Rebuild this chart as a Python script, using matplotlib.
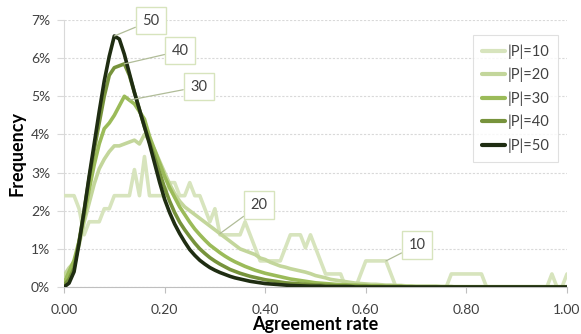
import numpy as np
import matplotlib
matplotlib.use("Agg")
import matplotlib.pyplot as plt
from matplotlib.ticker import FuncFormatter

plt.rcParams['font.family'] = ['Lato', 'DejaVu Sans']

# Agreement rate grid (0.00 .. 1.00, step 0.01)
agreement = np.round(np.arange(0, 101) * 0.01, 2)

# Frequencies in percent for each panel size |P|
unit10 = 0.342  # one count for |P|=10, in percent
counts_p10 = [7, 7, 7, 6, 4, 5, 5, 5, 6, 6,
              7, 7, 7, 7, 9, 7, 10, 7, 7, 7,
              7, 8, 8, 7, 7, 8, 7, 7, 6, 5,
              6, 4, 4, 4, 4, 4, 5, 4, 3, 2,
              2, 2, 2, 2, 3, 4, 4, 4, 3, 4,
              3, 2, 1, 1, 1, 1, 0, 0, 0, 1,
              2, 2, 2, 2, 2, 1, 0, 0, 0, 0,
              0, 0, 0, 0, 0, 0, 0, 1, 1, 1,
              1, 1, 1, 1, 0, 0, 0, 0, 0, 0,
              0, 0, 0, 0, 0, 0, 0, 1, 0, 0,
              1]
freq_p10 = [c * unit10 for c in counts_p10]

freq_p20 = [0.30, 0.50, 0.65, 1.10, 1.70, 2.20, 2.70, 3.10, 3.35, 3.55,
            3.70, 3.70, 3.75, 3.80, 3.85, 3.75, 4.00, 3.85, 3.60, 3.30,
            3.00, 2.70, 2.45, 2.25, 2.10, 2.00, 1.90, 1.80, 1.70, 1.60,
            1.50, 1.40, 1.30, 1.20, 1.10, 1.00, 0.95, 0.90, 0.85, 0.76,
            0.72, 0.65, 0.60, 0.55, 0.52, 0.48, 0.45, 0.42, 0.39, 0.35,
            0.30, 0.27, 0.24, 0.20, 0.18, 0.16, 0.14, 0.12, 0.10, 0.09,
            0.08, 0.07, 0.07, 0.06, 0.05, 0.05, 0.04, 0.04, 0.03, 0.03,
            0.02, 0.02, 0.02, 0.02, 0.02, 0.01, 0.01, 0.01, 0.01, 0.01,
            0.01, 0.01, 0.01, 0.01, 0.01, 0.01, 0.01, 0.01, 0.01, 0.01,
            0.01, 0.01, 0.01, 0.01, 0.01, 0.01, 0.01, 0.01, 0.01, 0.01,
            0.01]

freq_p30 = [0.10, 0.40, 0.70, 1.20, 1.85, 2.55, 3.20, 3.75, 4.15, 4.30,
            4.50, 4.75, 5.00, 4.90, 4.80, 4.60, 4.40, 3.95, 3.60, 3.25,
            2.90, 2.60, 2.35, 2.10, 1.90, 1.70, 1.52, 1.37, 1.23, 1.10,
            1.00, 0.90, 0.81, 0.73, 0.66, 0.60, 0.54, 0.49, 0.44, 0.40,
            0.36, 0.33, 0.30, 0.27, 0.24, 0.21, 0.19, 0.17, 0.15, 0.13,
            0.11, 0.10, 0.09, 0.08, 0.07, 0.06, 0.06, 0.05, 0.05, 0.04,
            0.04, 0.03, 0.03, 0.03, 0.02, 0.02, 0.02, 0.02, 0.01, 0.01,
            0.01, 0.01, 0.01, 0.01, 0.01, 0.01, 0.01, 0.01, 0.00, 0.00,
            0.00, 0.00, 0.00, 0.00, 0.00, 0.00, 0.00, 0.00, 0.00, 0.00,
            0.00, 0.00, 0.00, 0.00, 0.00, 0.00, 0.00, 0.00, 0.00, 0.00,
            0.00]

freq_p40 = [0.05, 0.20, 0.50, 1.20, 2.00, 2.85, 3.60, 4.30, 5.00, 5.55,
            5.75, 5.80, 5.85, 5.55, 5.10, 4.65, 4.20, 3.80, 3.40, 3.00,
            2.60, 2.25, 1.95, 1.70, 1.50, 1.32, 1.15, 1.00, 0.88, 0.77,
            0.68, 0.60, 0.53, 0.46, 0.41, 0.36, 0.32, 0.28, 0.25, 0.22,
            0.19, 0.17, 0.15, 0.13, 0.11, 0.10, 0.09, 0.08, 0.07, 0.06,
            0.05, 0.05, 0.04, 0.04, 0.03, 0.03, 0.03, 0.02, 0.02, 0.02,
            0.02, 0.01, 0.01, 0.01, 0.01, 0.01, 0.01, 0.01, 0.00, 0.00,
            0.00, 0.00, 0.00, 0.00, 0.00, 0.00, 0.00, 0.00, 0.00, 0.00,
            0.00, 0.00, 0.00, 0.00, 0.00, 0.00, 0.00, 0.00, 0.00, 0.00,
            0.00, 0.00, 0.00, 0.00, 0.00, 0.00, 0.00, 0.00, 0.00, 0.00,
            0.00]

freq_p50 = [0.00, 0.10, 0.40, 1.15, 2.00, 2.90, 3.75, 4.60, 5.40, 6.05,
            6.58, 6.50, 6.10, 5.60, 5.10, 4.65, 4.20, 3.75, 3.25, 2.75,
            2.30, 1.95, 1.65, 1.40, 1.18, 0.98, 0.83, 0.70, 0.60, 0.51,
            0.44, 0.38, 0.33, 0.28, 0.24, 0.21, 0.18, 0.15, 0.13, 0.11,
            0.09, 0.08, 0.07, 0.06, 0.05, 0.04, 0.035, 0.03, 0.025, 0.02,
            0.02, 0.02, 0.01, 0.01, 0.01, 0.01, 0.01, 0.01, 0.00, 0.00,
            0.00, 0.00, 0.00, 0.00, 0.00, 0.00, 0.00, 0.00, 0.00, 0.00,
            0.00, 0.00, 0.00, 0.00, 0.00, 0.00, 0.00, 0.00, 0.00, 0.00,
            0.00, 0.00, 0.00, 0.00, 0.00, 0.00, 0.00, 0.00, 0.00, 0.00,
            0.00, 0.00, 0.00, 0.00, 0.00, 0.00, 0.00, 0.00, 0.00, 0.00,
            0.00]

panel_sizes = [10, 20, 30, 40, 50]
series = [freq_p10, freq_p20, freq_p30, freq_p40, freq_p50]
colors = ['#d7e4bd', '#c3d69b', '#9bbb59', '#77933c', '#1f2d12']

# Callout labels: (series index, point index for the leader, text position)
callouts = [(4, 10, (0.173, 6.98)),
            (3, 12, (0.231, 6.19)),
            (2, 13, (0.268, 5.25)),
            (1, 31, (0.388, 2.15)),
            (0, 64, (0.702, 1.10))]

xticks = [0.0, 0.2, 0.4, 0.6, 0.8, 1.0]
yticks = [0, 1, 2, 3, 4, 5, 6, 7]

fig = plt.figure(figsize=(5.81, 3.34), dpi=100)
ax = fig.add_axes([64 / 581, 1 - 287 / 334, 503 / 581, 267 / 334])

for size, vals, col in zip(panel_sizes, series, colors):
    ax.plot(agreement, vals, color=col, lw=2.6, solid_joinstyle='round',
            solid_capstyle='round', label=f'|P|={size}', zorder=3)

ax.set_xlim(0, 1)
ax.set_ylim(0, 7)
ax.set_xticks(xticks)
ax.set_yticks(yticks)
ax.xaxis.set_major_formatter(FuncFormatter(lambda v, p: f'{v:.2f}'))
ax.yaxis.set_major_formatter(FuncFormatter(lambda v, p: f'{int(round(v))}%'))
ax.tick_params(axis='x', length=4, width=0.8, color='#bfbfbf', pad=8,
               labelsize=10, labelcolor='#404040')
ax.tick_params(axis='y', length=5, width=0.8, color='#d9d9d9', pad=5,
               labelsize=10, labelcolor='#404040')

ax.grid(axis='y', color='#d9d9d9', lw=0.8, ls=(0, (2, 1.5)), zorder=0)
for s in ['top', 'right']:
    ax.spines[s].set_visible(False)
ax.spines['left'].set_color('#d9d9d9')
ax.spines['bottom'].set_color('#bfbfbf')
ax.spines['left'].set_linewidth(0.8)
ax.spines['bottom'].set_linewidth(0.8)

ax.set_xlabel('Agreement rate', fontsize=13, fontweight='bold', labelpad=0)
ax.set_ylabel('Frequency', fontsize=13, fontweight='bold', labelpad=4)

leg = ax.legend(loc='upper right', bbox_to_anchor=(0.982, 0.942), fontsize=10.5,
                frameon=True, fancybox=False, edgecolor='#d9d9d9',
                handlelength=1.6, handletextpad=0.15, labelspacing=0.62,
                borderpad=0.6, borderaxespad=0)
leg.get_frame().set_linewidth(0.8)
for t in leg.get_texts():
    t.set_color('#404040')
for h in leg.get_lines():
    h.set_linewidth(3.0)

for si, pi, (tx, ty) in callouts:
    ax.annotate(str(panel_sizes[si]), xy=(agreement[pi], series[si][pi]),
                xytext=(tx, ty), ha='center', va='center', fontsize=10.5,
                color='#404040', zorder=5,
                bbox=dict(boxstyle='square,pad=0.45', fc='white',
                          ec='#d7e4bd', lw=1.0),
                arrowprops=dict(arrowstyle='-', color='#b0bc98', lw=0.9,
                                shrinkA=0, shrinkB=0))

fig.savefig('out.png', dpi=100)
